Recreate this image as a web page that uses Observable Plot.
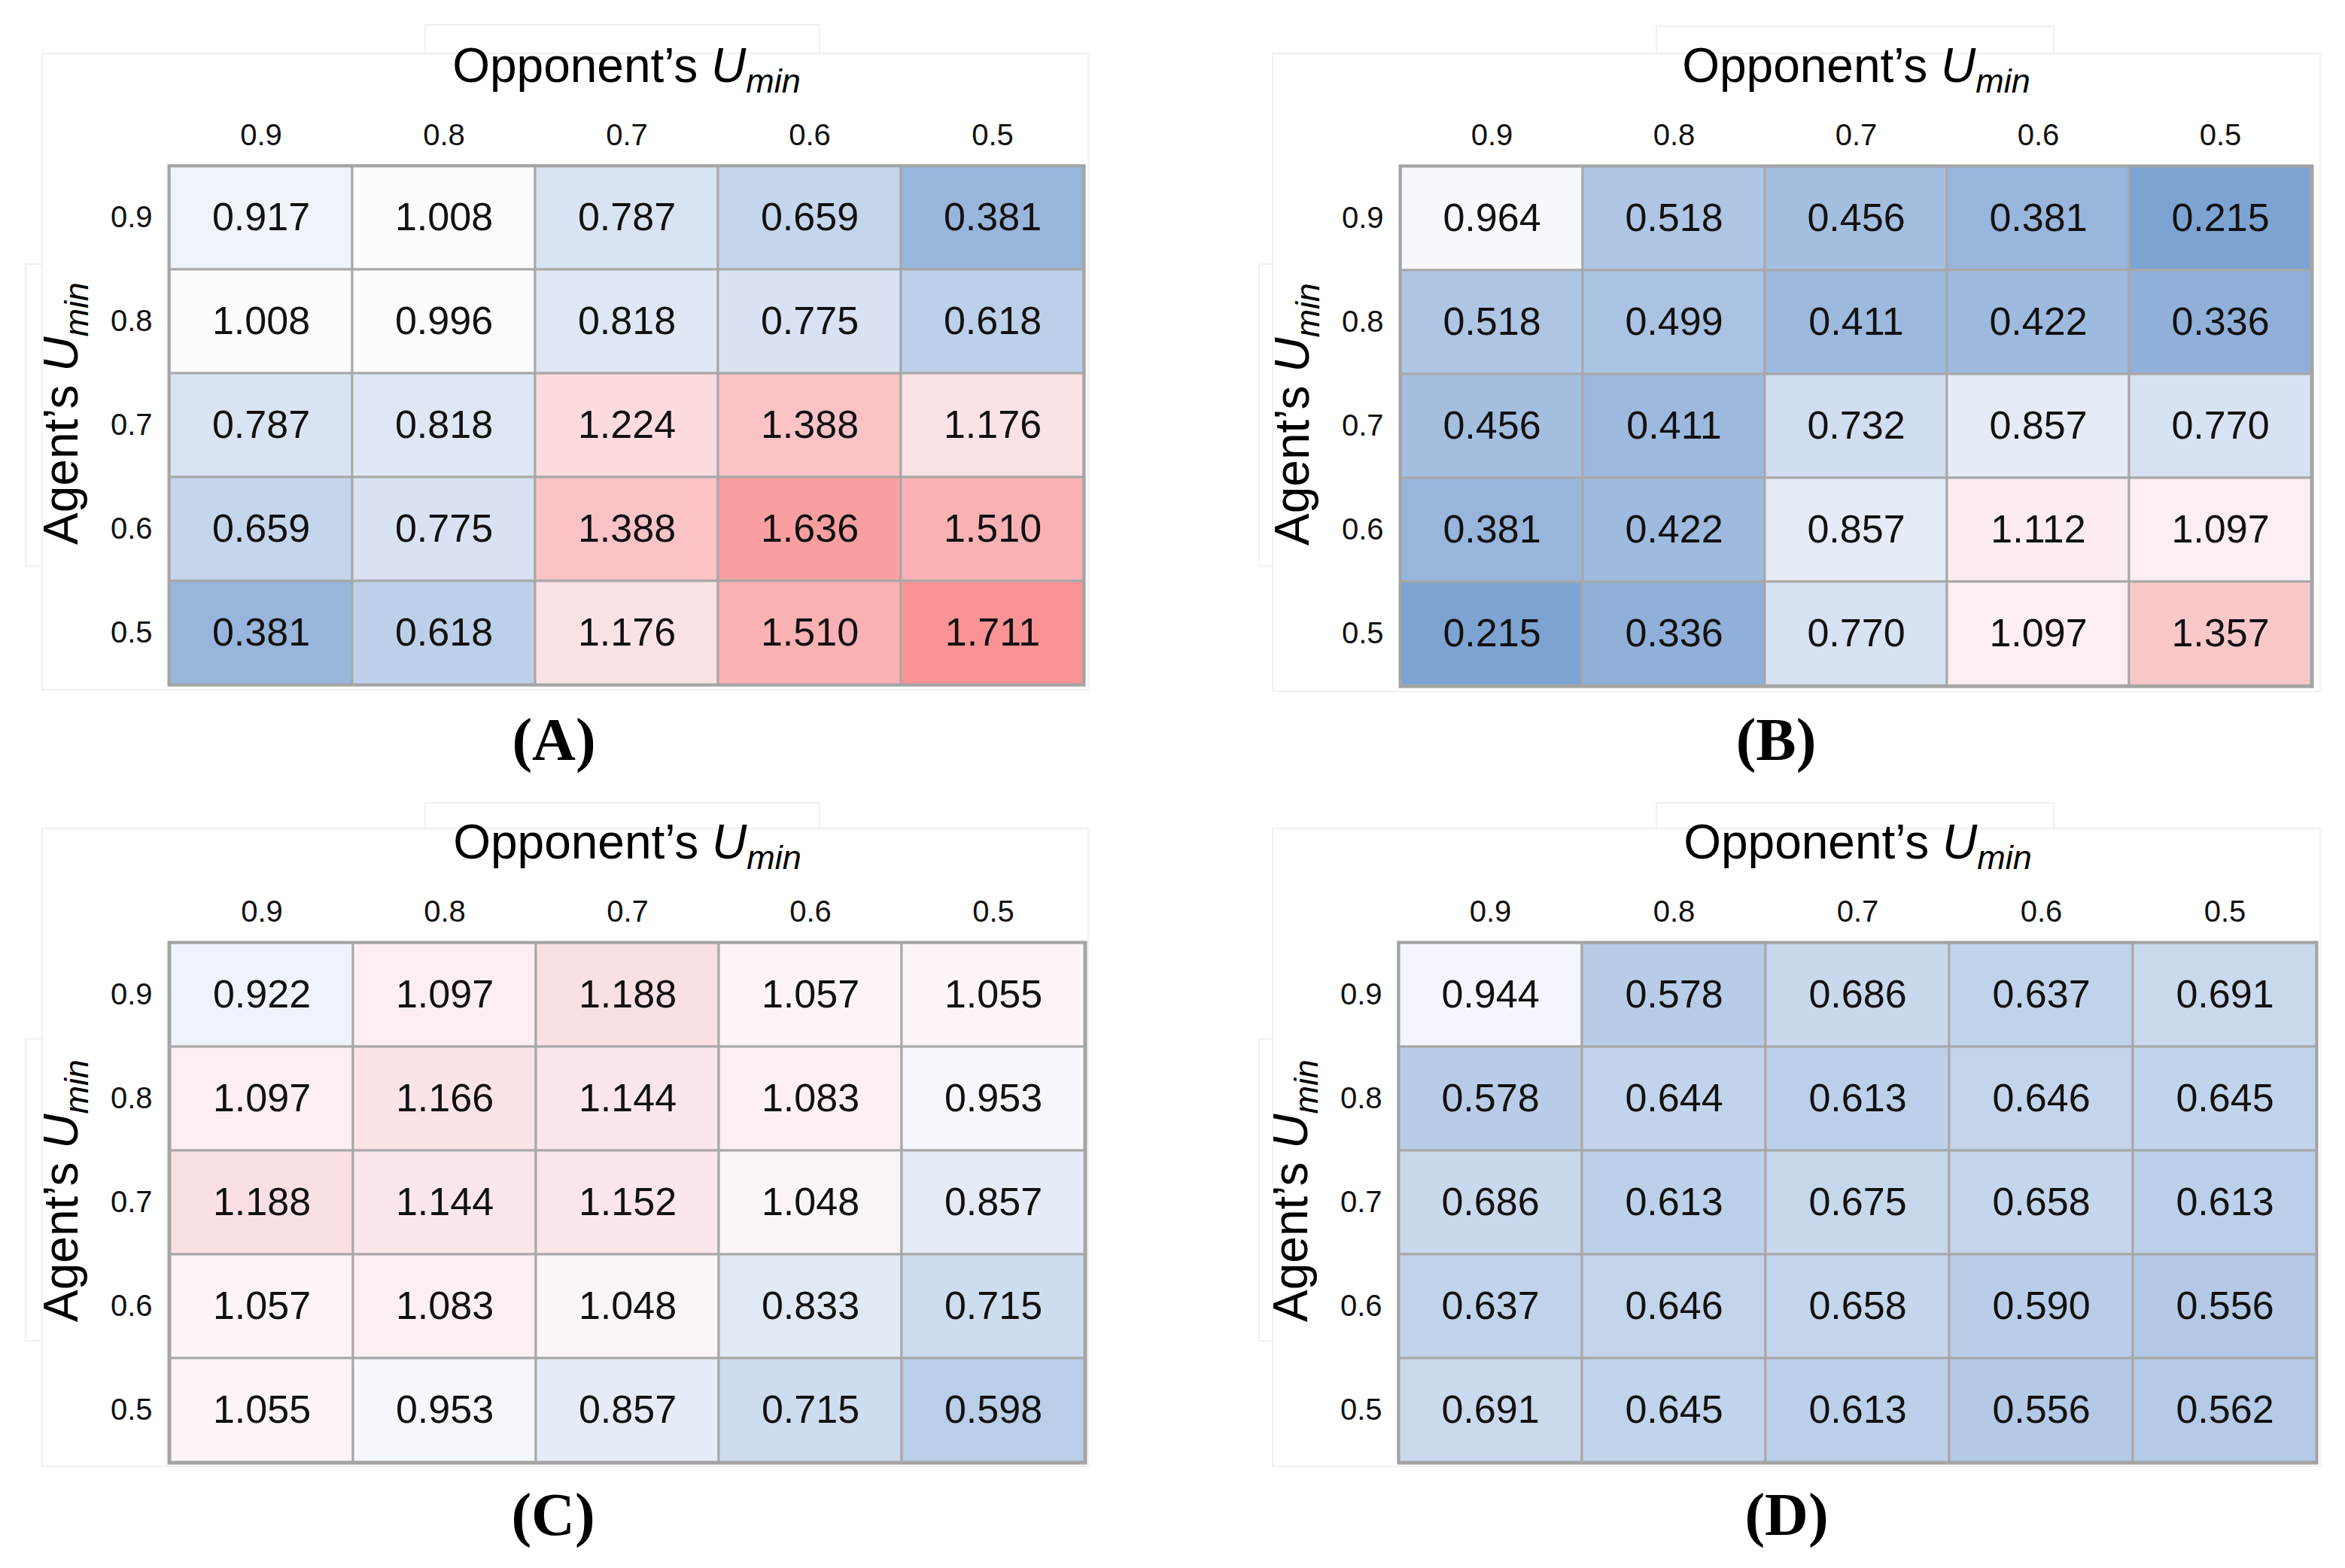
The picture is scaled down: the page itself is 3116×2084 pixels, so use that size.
<!DOCTYPE html>
<html>
<head>
<meta charset="utf-8">
<script src="https://cdn.jsdelivr.net/npm/d3@7"></script>
<script src="https://cdn.jsdelivr.net/npm/@observablehq/plot@0.6"></script>
<style>
  html, body { margin: 0; padding: 0; background: #ffffff; }
  body { position: relative; width: 3116px; height: 2084px; overflow: hidden; }
  .panel { position: absolute; }
  .caption { position: absolute; text-align: center; font-family: "Liberation Serif", "DejaVu Serif", serif; font-weight: bold; font-size: 80px; line-height: 90px; color: #000; }
  .patch { position: absolute; border: 2px solid #f1f1f1; box-sizing: border-box; }
</style>
</head>
<body>
<script>
// ---- data ----
const opponentUmin = ["0.9", "0.8", "0.7", "0.6", "0.5"];
const agentUmin = ["0.9", "0.8", "0.7", "0.6", "0.5"];
const valuesA = [
  [0.917, 1.008, 0.787, 0.659, 0.381],
  [1.008, 0.996, 0.818, 0.775, 0.618],
  [0.787, 0.818, 1.224, 1.388, 1.176],
  [0.659, 0.775, 1.388, 1.636, 1.510],
  [0.381, 0.618, 1.176, 1.510, 1.711]
];
const valuesB = [
  [0.964, 0.518, 0.456, 0.381, 0.215],
  [0.518, 0.499, 0.411, 0.422, 0.336],
  [0.456, 0.411, 0.732, 0.857, 0.770],
  [0.381, 0.422, 0.857, 1.112, 1.097],
  [0.215, 0.336, 0.770, 1.097, 1.357]
];
const valuesC = [
  [0.922, 1.097, 1.188, 1.057, 1.055],
  [1.097, 1.166, 1.144, 1.083, 0.953],
  [1.188, 1.144, 1.152, 1.048, 0.857],
  [1.057, 1.083, 1.048, 0.833, 0.715],
  [1.055, 0.953, 0.857, 0.715, 0.598]
];
const valuesD = [
  [0.944, 0.578, 0.686, 0.637, 0.691],
  [0.578, 0.644, 0.613, 0.646, 0.645],
  [0.686, 0.613, 0.675, 0.658, 0.613],
  [0.637, 0.646, 0.658, 0.590, 0.556],
  [0.691, 0.645, 0.613, 0.556, 0.562]
];
const panelLabels = ["(A)", "(B)", "(C)", "(D)"];
const xTitle = "Opponent’s";
const yTitle = "Agent’s";

// ---- layout ----
const panels = [
  {values: valuesA, label: panelLabels[0], left: 0,    top: 0,    width: 1560, height: 940, mL: 224, mR: 120, mT: 220, mB: 30, capLeft: 0,    capW: 1472, capTop: 938,
   patches: [[55, 70, 1392, 848], [564, 32, 526, 40], [33, 350, 24, 403]]},
  {values: valuesB, label: panelLabels[1], left: 1560, top: 0,    width: 1556, height: 940, mL: 300, mR: 44,  mT: 220, mB: 28, capLeft: 1560, capW: 1600, capTop: 938,
   patches: [[1690, 70, 1394, 850], [2200, 34, 530, 38], [1672, 350, 20, 403]]},
  {values: valuesC, label: panelLabels[2], left: 0,    top: 1040, width: 1560, height: 940, mL: 224, mR: 118, mT: 212, mB: 36, capLeft: 0,    capW: 1470, capTop: 1968,
   patches: [[55, 1100, 1392, 850], [564, 1066, 526, 36], [33, 1380, 24, 403]]},
  {values: valuesD, label: panelLabels[3], left: 1560, top: 1040, width: 1556, height: 940, mL: 298, mR: 38,  mT: 212, mB: 36, capLeft: 1560, capW: 1628, capTop: 1968,
   patches: [[1690, 1100, 1394, 850], [2200, 1066, 530, 36], [1672, 1380, 20, 403]]}
];

function tableOf(values) {
  const out = [];
  agentUmin.forEach((r, i) => opponentUmin.forEach((c, j) => out.push({agent: r, opponent: c, v: values[i][j]})));
  return out;
}

for (const p of panels) {
  for (const [x, y, w, h] of p.patches) {
    const d = document.createElement("div");
    d.className = "patch";
    Object.assign(d.style, {left: x + "px", top: y + "px", width: w + "px", height: h + "px"});
    document.body.appendChild(d);
  }
}

for (const p of panels) {
  const data = tableOf(p.values);
  const chart = Plot.plot({
    width: p.width,
    height: p.height,
    marginLeft: p.mL,
    marginRight: p.mR,
    marginTop: p.mT,
    marginBottom: p.mB,
    style: {fontFamily: "Liberation Sans, Arial, sans-serif", background: "transparent", color: "#111"},
    x: {type: "band", domain: opponentUmin, padding: 0},
    y: {type: "band", domain: agentUmin, padding: 0},
    color: {type: "linear", domain: [0, 1, 2], range: ["#5A8AC6", "#FCFCFF", "#F8696B"], interpolate: "rgb"},
    marks: [
      Plot.cell(data, {x: "opponent", y: "agent", fill: "v", stroke: "#a8a8a8", strokeWidth: 3}),
      Plot.frame({stroke: "#a4a4a4", strokeWidth: 4}),
      Plot.text(data, {x: "opponent", y: "agent", text: d => d.v.toFixed(3), fontSize: 52, fill: "#111"}),
      Plot.axisX({anchor: "top", tickSize: 0, tickPadding: 28, fontSize: 40, label: xTitle, labelAnchor: "center", labelOffset: 157}),
      Plot.axisY({anchor: "left", tickSize: 0, tickPadding: 22, fontSize: 40, label: yTitle, labelAnchor: "center", labelOffset: 167})
    ]
  });
  const wrap = document.createElement("div");
  wrap.className = "panel";
  Object.assign(wrap.style, {left: p.left + "px", top: p.top + "px", width: p.width + "px", height: p.height + "px"});
  wrap.appendChild(chart);
  document.body.appendChild(wrap);

  const svg = d3.select(chart);
  svg.selectAll('g[aria-label="x-axis label"] text, g[aria-label="y-axis label"] text').each(function() {
    const t = d3.select(this);
    const base = t.text().replace(/[\s→↑←↓]+$/, "").replace(/^[→↑←↓\s]+/, "");
    t.text(null).attr("font-size", 64).attr("fill", "#000");
    t.append("tspan").text(base + " ");
    t.append("tspan").attr("font-style", "italic").text("U");
    t.append("tspan").attr("font-style", "italic").attr("font-size", 45).attr("dy", "0.32em").text("min");
  });
  // nudge the rotated y title upward, as in the reference
  svg.selectAll('g[aria-label="y-axis label"]').each(function() {
    const g = d3.select(this);
    g.attr("transform", ((g.attr("transform") || "") + " translate(0,-16)").trim());
  });

  const cap = document.createElement("div");
  cap.className = "caption";
  cap.textContent = p.label;
  Object.assign(cap.style, {left: p.capLeft + "px", top: p.capTop + "px", width: p.capW + "px"});
  document.body.appendChild(cap);
}
</script>
</body>
</html>
